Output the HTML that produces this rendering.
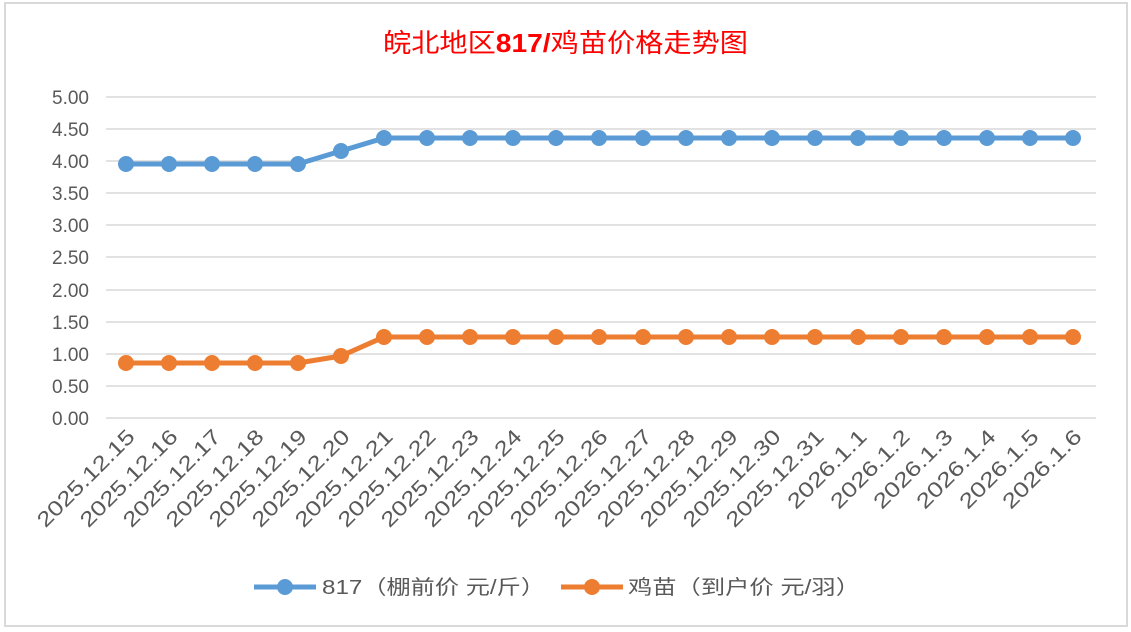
<!DOCTYPE html>
<html><head><meta charset="utf-8"><style>
html,body{margin:0;padding:0;background:#fff;}
svg{display:block;}
text{font-family:"Liberation Sans","Noto Sans CJK SC",sans-serif;}
</style></head><body>
<svg width="1131" height="632" viewBox="0 0 1131 632" xmlns="http://www.w3.org/2000/svg">
<rect x="0" y="0" width="1131" height="632" fill="#fff"/>
<rect x="5" y="3" width="1122" height="623" fill="#fff" stroke="#d9d9d9" stroke-width="2"/>
<text x="383" y="52" font-size="26" fill="#ff0000" textLength="365" lengthAdjust="spacingAndGlyphs">皖北地区<tspan font-weight="bold">817/</tspan>鸡苗价格走势图</text>
<g stroke="#d9d9d9" stroke-width="1.5">
<line x1="106" y1="97" x2="1096" y2="97"/><line x1="106" y1="129" x2="1096" y2="129"/>
<line x1="106" y1="161" x2="1096" y2="161"/><line x1="106" y1="193" x2="1096" y2="193"/>
<line x1="106" y1="225" x2="1096" y2="225"/><line x1="106" y1="257" x2="1096" y2="257"/>
<line x1="106" y1="290" x2="1096" y2="290"/><line x1="106" y1="322" x2="1096" y2="322"/>
<line x1="106" y1="354" x2="1096" y2="354"/><line x1="106" y1="386" x2="1096" y2="386"/>
<line x1="106" y1="418" x2="1096" y2="418"/>
</g>
<g font-size="19" fill="#595959" text-anchor="end">
<text x="89" y="104">5.00</text><text x="89" y="136">4.50</text><text x="89" y="168">4.00</text>
<text x="89" y="200">3.50</text><text x="89" y="232">3.00</text><text x="89" y="264">2.50</text>
<text x="89" y="297">2.00</text><text x="89" y="329">1.50</text><text x="89" y="361">1.00</text>
<text x="89" y="393">0.50</text><text x="89" y="425">0.00</text>
</g>
<g font-size="21" fill="#595959" text-anchor="end">
<text transform="translate(136,438) rotate(-45)" textLength="128" lengthAdjust="spacingAndGlyphs">2025.12.15</text>
<text transform="translate(179,438) rotate(-45)" textLength="128" lengthAdjust="spacingAndGlyphs">2025.12.16</text>
<text transform="translate(222,438) rotate(-45)" textLength="128" lengthAdjust="spacingAndGlyphs">2025.12.17</text>
<text transform="translate(265,438) rotate(-45)" textLength="128" lengthAdjust="spacingAndGlyphs">2025.12.18</text>
<text transform="translate(308,438) rotate(-45)" textLength="128" lengthAdjust="spacingAndGlyphs">2025.12.19</text>
<text transform="translate(351,438) rotate(-45)" textLength="128" lengthAdjust="spacingAndGlyphs">2025.12.20</text>
<text transform="translate(394,438) rotate(-45)" textLength="128" lengthAdjust="spacingAndGlyphs">2025.12.21</text>
<text transform="translate(437,438) rotate(-45)" textLength="128" lengthAdjust="spacingAndGlyphs">2025.12.22</text>
<text transform="translate(480,438) rotate(-45)" textLength="128" lengthAdjust="spacingAndGlyphs">2025.12.23</text>
<text transform="translate(523,438) rotate(-45)" textLength="128" lengthAdjust="spacingAndGlyphs">2025.12.24</text>
<text transform="translate(566,438) rotate(-45)" textLength="128" lengthAdjust="spacingAndGlyphs">2025.12.25</text>
<text transform="translate(609,438) rotate(-45)" textLength="128" lengthAdjust="spacingAndGlyphs">2025.12.26</text>
<text transform="translate(653,438) rotate(-45)" textLength="128" lengthAdjust="spacingAndGlyphs">2025.12.27</text>
<text transform="translate(696,438) rotate(-45)" textLength="128" lengthAdjust="spacingAndGlyphs">2025.12.28</text>
<text transform="translate(739,438) rotate(-45)" textLength="128" lengthAdjust="spacingAndGlyphs">2025.12.29</text>
<text transform="translate(782,438) rotate(-45)" textLength="128" lengthAdjust="spacingAndGlyphs">2025.12.30</text>
<text transform="translate(825,438) rotate(-45)" textLength="128" lengthAdjust="spacingAndGlyphs">2025.12.31</text>
<text transform="translate(868,438) rotate(-45)" textLength="102" lengthAdjust="spacingAndGlyphs">2026.1.1</text>
<text transform="translate(911,438) rotate(-45)" textLength="102" lengthAdjust="spacingAndGlyphs">2026.1.2</text>
<text transform="translate(954,438) rotate(-45)" textLength="102" lengthAdjust="spacingAndGlyphs">2026.1.3</text>
<text transform="translate(997,438) rotate(-45)" textLength="102" lengthAdjust="spacingAndGlyphs">2026.1.4</text>
<text transform="translate(1040,438) rotate(-45)" textLength="102" lengthAdjust="spacingAndGlyphs">2026.1.5</text>
<text transform="translate(1083,438) rotate(-45)" textLength="102" lengthAdjust="spacingAndGlyphs">2026.1.6</text>
</g>
<polyline fill="none" stroke="#5b9bd5" stroke-width="5" stroke-linejoin="round" points="126,164 169,164 212,164 255,164 298,164 341,151 384,138 427,138 470,138 513,138 556,138 599,138 643,138 686,138 729,138 772,138 815,138 858,138 901,138 944,138 987,138 1030,138 1073,138"/>
<g fill="#5b9bd5">
<circle cx="126" cy="164" r="8"/><circle cx="169" cy="164" r="8"/><circle cx="212" cy="164" r="8"/><circle cx="255" cy="164" r="8"/><circle cx="298" cy="164" r="8"/><circle cx="341" cy="151" r="8"/><circle cx="384" cy="138" r="8"/><circle cx="427" cy="138" r="8"/><circle cx="470" cy="138" r="8"/><circle cx="513" cy="138" r="8"/><circle cx="556" cy="138" r="8"/><circle cx="599" cy="138" r="8"/><circle cx="643" cy="138" r="8"/><circle cx="686" cy="138" r="8"/><circle cx="729" cy="138" r="8"/><circle cx="772" cy="138" r="8"/><circle cx="815" cy="138" r="8"/><circle cx="858" cy="138" r="8"/><circle cx="901" cy="138" r="8"/><circle cx="944" cy="138" r="8"/><circle cx="987" cy="138" r="8"/><circle cx="1030" cy="138" r="8"/><circle cx="1073" cy="138" r="8"/>
</g>
<polyline fill="none" stroke="#ed7d31" stroke-width="5" stroke-linejoin="round" points="126,363 169,363 212,363 255,363 298,363 341,356 384,337 427,337 470,337 513,337 556,337 599,337 643,337 686,337 729,337 772,337 815,337 858,337 901,337 944,337 987,337 1030,337 1073,337"/>
<g fill="#ed7d31">
<circle cx="126" cy="363" r="8"/><circle cx="169" cy="363" r="8"/><circle cx="212" cy="363" r="8"/><circle cx="255" cy="363" r="8"/><circle cx="298" cy="363" r="8"/><circle cx="341" cy="356" r="8"/><circle cx="384" cy="337" r="8"/><circle cx="427" cy="337" r="8"/><circle cx="470" cy="337" r="8"/><circle cx="513" cy="337" r="8"/><circle cx="556" cy="337" r="8"/><circle cx="599" cy="337" r="8"/><circle cx="643" cy="337" r="8"/><circle cx="686" cy="337" r="8"/><circle cx="729" cy="337" r="8"/><circle cx="772" cy="337" r="8"/><circle cx="815" cy="337" r="8"/><circle cx="858" cy="337" r="8"/><circle cx="901" cy="337" r="8"/><circle cx="944" cy="337" r="8"/><circle cx="987" cy="337" r="8"/><circle cx="1030" cy="337" r="8"/><circle cx="1073" cy="337" r="8"/>
</g>
<line x1="254" y1="587" x2="316" y2="587" stroke="#5b9bd5" stroke-width="5"/>
<circle cx="285" cy="587" r="8" fill="#5b9bd5"/>
<text x="322" y="594" font-size="20" fill="#595959" textLength="223" lengthAdjust="spacingAndGlyphs">817（棚前价 元/斤）</text>
<line x1="561" y1="587" x2="623" y2="587" stroke="#ed7d31" stroke-width="5"/>
<circle cx="592" cy="587" r="8" fill="#ed7d31"/>
<text x="628" y="594" font-size="20" fill="#595959" textLength="232" lengthAdjust="spacingAndGlyphs">鸡苗（到户价 元/羽）</text>
</svg>
</body></html>
